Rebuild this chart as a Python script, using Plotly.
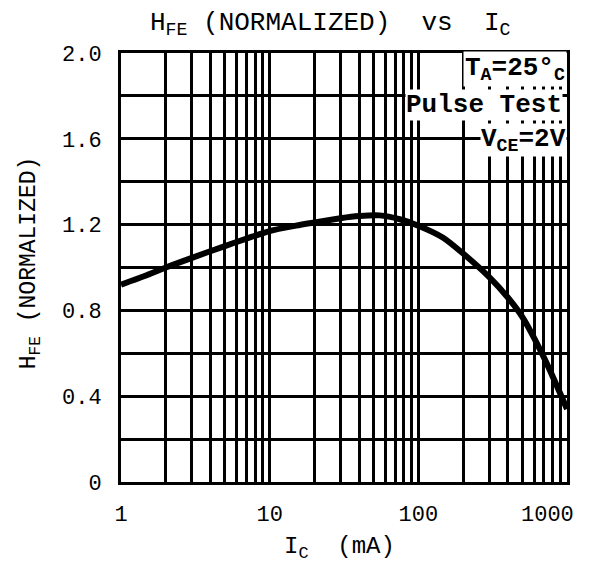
import math
import plotly.graph_objects as go

# Data
ic_ma = [1, 1.5, 2, 3, 5, 7, 10, 15, 20, 30, 40, 55, 75, 100, 146, 200, 300, 400, 500, 700, 1000]
hfe_norm = [0.92, 0.965, 1.00, 1.045, 1.10, 1.135, 1.17, 1.195, 1.21, 1.23, 1.24, 1.243, 1.225,
            1.195, 1.14, 1.065, 0.955, 0.86, 0.77, 0.58, 0.34]

x_tick_vals = [1, 10, 100]
x_tick_text = ["1", "10", "100"]
x_last_tick = 1000
x_last_text = "1000"
x_minor_vals = [m * d for d in [1, 10, 100] for m in range(1, 10)] + [1000]
y_tick_vals = [0, 0.4, 0.8, 1.2, 1.6, 2.0]
y_tick_text = ["0", "0.4", "0.8", "1.2", "1.6", "2.0"]

FONT = "Liberation Mono"

fig = go.Figure()
fig.add_trace(go.Scatter(
    x=ic_ma, y=hfe_norm, mode="lines",
    line=dict(color="black", width=6, shape="spline", smoothing=0.8),
    hoverinfo="skip", showlegend=False,
))

fig.update_layout(
    width=583, height=566,
    margin=dict(l=113, r=24, t=45, b=92),
    paper_bgcolor="white", plot_bgcolor="white",
    font=dict(family=FONT, color="black", size=20),
    xaxis=dict(
        type="log", range=[0, 3], autorange=False,
        tickvals=x_tick_vals, ticktext=x_tick_text,
        showgrid=True, gridcolor="black", gridwidth=2.5,
        minor=dict(tickvals=x_minor_vals, showgrid=True, gridcolor="black", gridwidth=2.5, ticks=""),
        ticks="", showline=True, mirror=True, linecolor="black", linewidth=3,
        tickfont=dict(family=FONT, size=22), ticklabelstandoff=10,
        zeroline=False, automargin=False,
    ),
    yaxis=dict(
        range=[0, 2.0], autorange=False,
        tickvals=y_tick_vals, ticktext=y_tick_text,
        showgrid=True, gridcolor="black", gridwidth=2.5,
        minor=dict(dtick=0.2, showgrid=True, gridcolor="black", gridwidth=2.5, ticks=""),
        ticks="", showline=True, mirror=True, linecolor="black", linewidth=3,
        tickfont=dict(family=FONT, size=22), ticklabelstandoff=12,
        zeroline=False, automargin=False,
    ),
    annotations=[
        dict(text=x_last_text, xref="x", yref="paper", x=math.log10(x_last_tick), y=0,
             xshift=-20, yshift=-33, showarrow=False, font=dict(family=FONT, size=22),
             xanchor="center", yanchor="middle"),
        dict(text="H<sub>FE</sub> (NORMALIZED)  vs  I<sub>C</sub>", xref="paper", yref="paper",
             x=0.47, y=1.0, yshift=29, showarrow=False, font=dict(family=FONT, size=26),
             xanchor="center", yanchor="middle"),
        dict(text="I<sub>C</sub>  (mA)", xref="paper", yref="paper", x=0.49, y=0, yshift=-66,
             showarrow=False, font=dict(family=FONT, size=24), xanchor="center", yanchor="middle"),
        dict(text="H<sub>FE</sub> (NORMALIZED)", xref="paper", yref="paper", x=0, xshift=-91,
             y=0.51, textangle=-90, showarrow=False, font=dict(family=FONT, size=23),
             xanchor="center", yanchor="middle"),
        dict(text="<b>T<sub>A</sub>=25°<sub>C</sub></b>", xref="paper", yref="paper",
             x=1.0, y=0.962, xanchor="right", yanchor="middle", showarrow=False,
             bgcolor="white", font=dict(family=FONT, size=26), borderpad=1),
        dict(text="<b>Pulse Test</b>", xref="paper", yref="paper",
             x=0.99, y=0.879, xanchor="right", yanchor="middle", showarrow=False,
             bgcolor="white", font=dict(family=FONT, size=26), borderpad=0),
        dict(text="<b>V<sub>CE</sub>=2V</b>", xref="paper", yref="paper",
             x=1.0, y=0.798, xanchor="right", yanchor="middle", showarrow=False,
             bgcolor="white", font=dict(family=FONT, size=26), borderpad=0),
    ],
)

fig.write_html("out.html")
